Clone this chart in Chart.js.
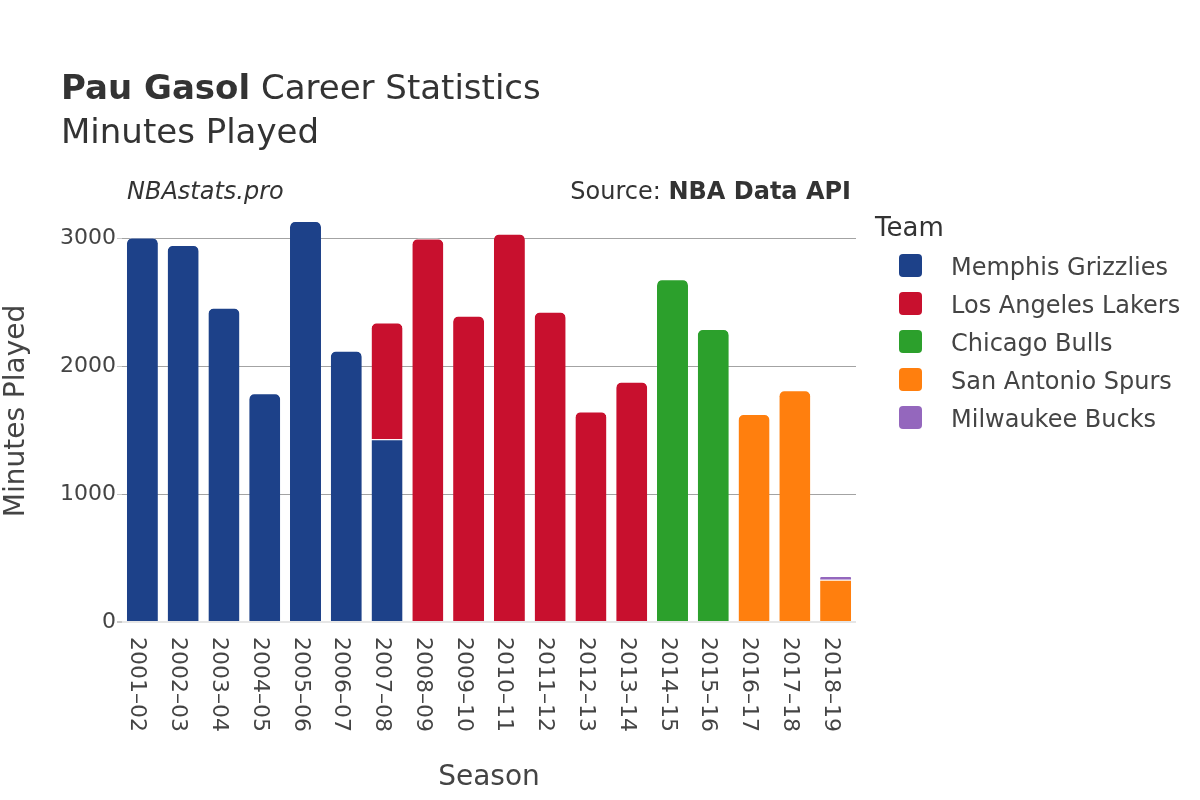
<!DOCTYPE html>
<html>
<head>
<meta charset="utf-8">
<script src="https://cdn.jsdelivr.net/npm/chart.js@4.4.1/dist/chart.umd.min.js"></script>
<style>
  html, body { margin:0; padding:0; background:#fff; }
  #wrap { position:relative; width:1200px; height:800px; font-family:'DejaVu Sans', sans-serif; color:#444; overflow:hidden; }
  #c { position:absolute; left:0; top:0; }
  .txt { position:absolute; white-space:nowrap; line-height:1; }
  .xl { position:absolute; white-space:nowrap; writing-mode:vertical-rl; font-size:22px; line-height:22px; transform:translateX(-50%); color:#444; }
  .lg-mark { position:absolute; width:23px; height:23px; border-radius:4px; }
</style>
</head>
<body>
<div id="wrap">
  <canvas id="c" width="1200" height="800"></canvas>
  <div class="txt" style="left:61px; top:70px; font-size:34px; color:#333;"><b>Pau Gasol</b> Career Statistics</div>
  <div class="txt" style="left:61px; top:114px; font-size:34px; color:#333;">Minutes Played</div>
  <div class="txt" style="left:127px; top:179px; font-size:24px; font-style:italic; color:#333;">NBAstats.pro</div>
  <div class="txt" style="right:349px; top:179px; font-size:24px; color:#333;">Source: <b>NBA Data API</b></div>
  <div class="txt" style="left:875px; top:214px; font-size:26px; color:#333;">Team</div>
  <div id="legend"></div>
  <div id="xlabels"></div>
</div>
<script>
// ---- data ----
const seasons = ['2001–02','2002–03','2003–04','2004–05','2005–06','2006–07','2007–08','2008–09','2009–10',
                 '2010–11','2011–12','2012–13','2013–14','2014–15','2015–16','2016–17','2017–18','2018–19'];
const teams = ['Memphis Grizzlies','Los Angeles Lakers','Chicago Bulls','San Antonio Spurs','Milwaukee Bucks'];
const teamColors = ['#1d4189','#c8102e','#2ca02c','#ff7f0e','#9467bd'];
const memphisMinutes = [3007,2948,2457,1788,3135,2121,1429,null,null,null,null,null,null,null,null,null,null,null];
const lakersMinutes  = [null,null,null,null,null,null,913,2999,2394,3037,2426,1647,1879,null,null,null,null,null];
const bullsMinutes   = [null,null,null,null,null,null,null,null,null,null,null,null,null,2681,2291,null,null,null];
const spursMinutes   = [null,null,null,null,null,null,null,null,null,null,null,null,null,null,null,1627,1812,330];
const bucksMinutes   = [null,null,null,null,null,null,null,null,null,null,null,null,null,null,null,null,null,30];
const yTickValues = [0,1000,2000,3000];

const seriesValues = [memphisMinutes, lakersMinutes, bullsMinutes, spursMinutes, bucksMinutes];

Chart.defaults.font.family = "'DejaVu Sans', sans-serif";
Chart.defaults.color = '#444';

const datasets = teams.map((t, i) => ({
  label: t,
  data: seriesValues[i],
  backgroundColor: teamColors[i],
  borderColor: '#ffffff',
  borderWidth: {top: 1, left: 0, right: 0, bottom: 0},
  borderRadius: 6,
  borderSkipped: 'start',
  barPercentage: 0.76,
  categoryPercentage: 1.0
}));

const chart = new Chart(document.getElementById('c'), {
  type: 'bar',
  data: { labels: seasons, datasets },
  options: {
    responsive: false,
    animation: false,
    events: [],
    layout: { padding: { top: 200, right: 344, left: 0, bottom: 0 } },
    plugins: { legend: { display: false }, tooltip: { enabled: false }, title: { display: false } },
    scales: {
      x: {
        stacked: true,
        grid: { display: false },
        border: { display: false },
        ticks: { display: false },
        title: { display: true, text: 'Season', font: { size: 28 }, color: '#444', padding: { top: 0, bottom: 5 } },
        afterFit: s => { s.height = 178; }
      },
      y: {
        stacked: true,
        min: 0,
        max: 3300,
        border: { display: false },
        grid: {
          color: c => c.tick && c.tick.value === 0 ? '#e6e6e6' : '#a3a3a3',
          lineWidth: c => c.tick && c.tick.value === 0 ? 2 : 1,
          tickColor: '#c8c8c8',
          tickLength: 5,
          drawTicks: true
        },
        afterBuildTicks: s => { s.ticks = yTickValues.map(v => ({ value: v })); },
        ticks: { stepSize: 1000, includeBounds: false, font: { size: 22 }, color: '#444', padding: 1, callback: v => String(v) },
        title: { display: true, text: 'Minutes Played', font: { size: 28 }, color: '#444', padding: { top: 0, bottom: 0 } },
        afterFit: s => { s.width = 122; }
      }
    }
  }
});

// x tick labels (rotated, reading top to bottom) positioned from the category scale
const xl = document.getElementById('xlabels');
seasons.forEach((s, i) => {
  const d = document.createElement('div');
  d.className = 'xl';
  d.textContent = s;
  d.style.left = (chart.scales.x.getPixelForValue(i) - 4) + 'px';
  d.style.top = '637px';
  xl.appendChild(d);
});

// legend built from the team arrays
const lg = document.getElementById('legend');
teams.forEach((t, i) => {
  const m = document.createElement('div');
  m.className = 'lg-mark';
  m.style.left = '899px';
  m.style.top = (254 + i * 38) + 'px';
  m.style.background = teamColors[i];
  lg.appendChild(m);
  const l = document.createElement('div');
  l.className = 'txt';
  l.style.left = '951px';
  l.style.top = (255 + i * 38) + 'px';
  l.style.fontSize = '24px';
  l.style.color = '#444';
  l.textContent = t;
  lg.appendChild(l);
});
</script>
</body>
</html>
